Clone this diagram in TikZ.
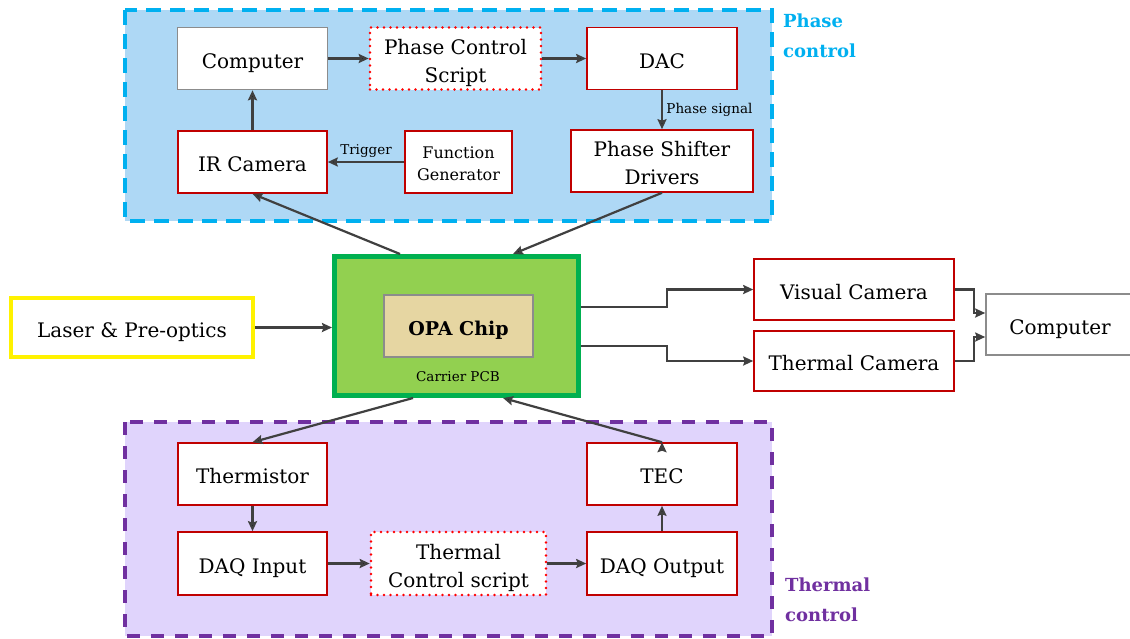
\documentclass[tikz,border=0pt]{standalone}
\usepackage{fontspec}
\setmainfont{DejaVu Serif}
\usetikzlibrary{positioning,arrows.meta}

\definecolor{phasefill}{HTML}{AED8F5}
\definecolor{phaseline}{HTML}{00B0F0}
\definecolor{thermfill}{HTML}{E0D4FC}
\definecolor{thermline}{HTML}{7030A0}
\definecolor{boxred}{HTML}{C00000}
\definecolor{boxgray}{HTML}{8C8C8C}
\definecolor{pcbfill}{HTML}{92D050}
\definecolor{pcbline}{HTML}{00B050}
\definecolor{chipfill}{HTML}{E6D6A2}
\definecolor{arrowgray}{HTML}{404040}

\begin{document}
\begin{tikzpicture}[x=1pt,y=-1pt,-,>={Stealth[length=10pt,width=9pt,inset=1.5pt]},
  main node/.style={draw=boxred,line width=1.6pt,fill=white,minimum width=150pt,minimum height=62pt,inner sep=2pt,align=center,font=\fontsize{20}{28}\selectfont,text height=25pt,text depth=6pt},
  two lines/.style={text height=51pt,text depth=4pt},
  gray node/.style={main node,draw=boxgray},
  script node/.style={main node,draw=red,line width=2.6pt,dash pattern=on 0pt off 6.5pt,line cap=round},
  small text/.style={font=\fontsize{13.5}{15}\selectfont},
  region label/.style={anchor=north west,inner sep=0pt,align=left,font=\bfseries\fontsize{18}{30}\selectfont}]

    \path[use as bounding box,fill=white] (0,0) rectangle (1130,638);

    % the two control loops
    \draw[fill=phasefill,draw=phaseline,line width=3.2pt,dash pattern=on 15pt off 9pt] (125,10) rectangle (772,221);
    \draw[fill=thermfill,draw=thermline,line width=3.2pt,dash pattern=on 13pt off 11pt] (125,422) rectangle (772,636);
    \node[region label,text=phaseline] (19) at (783,14) {Phase\\control};
    \node[region label,text=thermline] (20) at (785,578) {Thermal\\control};

    % phase control
    \node[gray node] (1) at (252.5,58.5) {Computer};
    \node[script node,two lines,minimum width=171pt] (2) at (455.5,58.5) {Phase Control\\Script};
    \node[main node] (3) at (662,58.5) {DAC};
    \node[main node,minimum width=149pt] (4) at (252.5,162) {IR Camera};
    \node[main node,minimum width=107pt,font=\fontsize{16}{22}\selectfont,text height=40pt,text depth=4pt] (5) at (458.5,162) {Function\\Generator};
    \node[main node,two lines,minimum width=182pt] (6) at (662,161) {Phase Shifter\\Drivers};

    % carrier board and chip
    \node[draw=pcbline,fill=pcbfill,line width=5pt,minimum width=244pt,minimum height=139pt] (7) at (456.5,326) {};
    \node[small text] (8) at (458,377) {Carrier PCB};
    \node[gray node,fill=chipfill,minimum width=149pt,font=\bfseries\fontsize{19}{24}\selectfont] (9) at (458.5,326) {OPA Chip};
    \node[main node,draw=yellow,line width=3.6pt,minimum width=242pt,minimum height=59pt] (10) at (132,327.5) {Laser \& Pre-optics};

    % imaging
    \node[main node,minimum width=200pt,minimum height=61pt] (11) at (854,289.5) {Visual Camera};
    \node[main node,minimum width=200pt,minimum height=60pt] (12) at (854,361) {Thermal Camera};
    \node[gray node,minimum width=148pt,minimum height=61pt] (13) at (1060,324.5) {Computer};

    % thermal control
    \node[main node,minimum width=149pt] (14) at (252.5,474) {Thermistor};
    \node[main node,minimum width=149pt,minimum height=63pt] (15) at (252.5,563.5) {DAQ Input};
    \node[script node,two lines,minimum width=175pt,minimum height=63pt] (16) at (458.5,563.5) {Thermal\\Control script};
    \node[main node,minimum height=63pt] (17) at (662,563.5) {DAQ Output};
    \node[main node] (18) at (662,474) {TEC};

    \path[->,draw=arrowgray,line width=2.2pt]
        (1) edge (2)
        (2) edge (3)
        (3) edge node[right,small text,text=black] {Phase signal} (6)
        (5) edge node[above,small text,text=black] {Trigger} (4)
        (4) edge (1)
        ([xshift=-56.5pt]7.north) edge (4.south)
        (6.south) edge ([xshift=56.5pt]7.north)
        (10.east) edge (10.east -| 7.west)
        ([xshift=-43.5pt]7.south) edge (14.north)
        (18.north) edge ([xshift=46.5pt]7.south)
        (14) edge (15)
        (15) edge (16)
        (16) edge (17)
        (17) edge (18)
    ;

    \draw[->,draw=arrowgray,line width=2.2pt] ([yshift=19pt]7.east) -- ++(86,0) |- (11);
    \draw[->,draw=arrowgray,line width=2.2pt] ([yshift=-20pt]7.east) -- ++(86,0) |- (12);
    \draw[->,draw=arrowgray,line width=2.2pt] (11.east) -- ++(19,0) |- ([yshift=11.5pt]13.west);
    \draw[->,draw=arrowgray,line width=2.2pt] (12.east) -- ++(19,0) |- ([yshift=-12.5pt]13.west);
\end{tikzpicture}
\end{document}
